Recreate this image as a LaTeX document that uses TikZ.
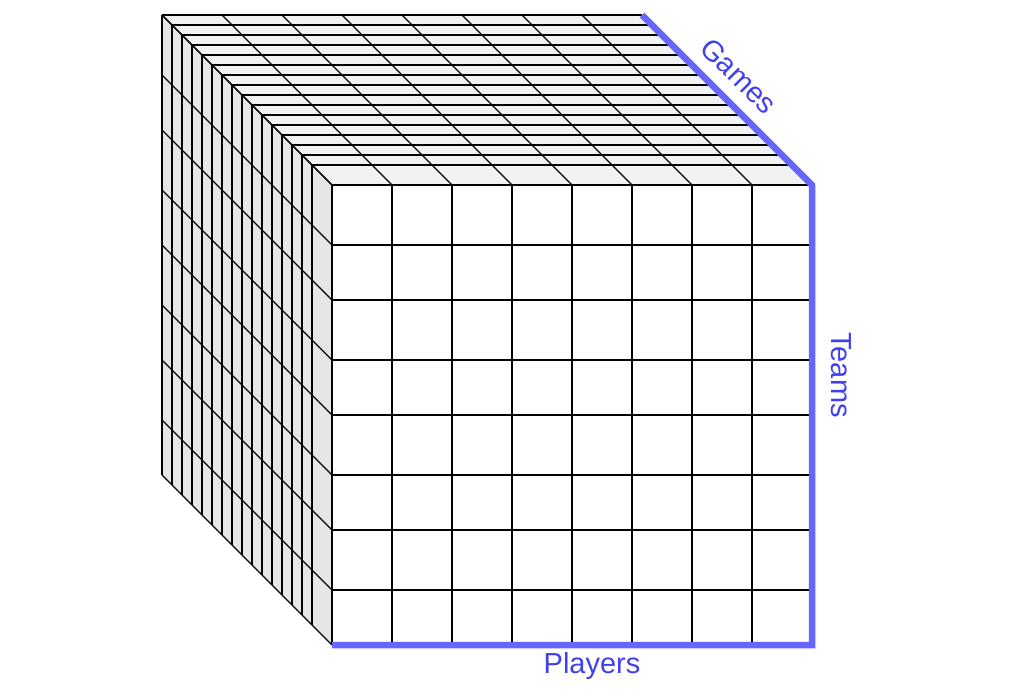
\documentclass[tikz,border=0pt]{standalone}
\usepackage{fontspec}
\setmainfont{Liberation Sans}
\definecolor{edgeblue}{HTML}{6666FF}
\definecolor{textblue}{HTML}{4040EE}
\definecolor{topgray}{HTML}{F2F2F2}
\definecolor{sidegray}{HTML}{E6E6E6}
\begin{document}
\begin{tikzpicture}[x=1pt,y=-1pt,
  gridline/.style={draw=black,line width=1.2pt},
  axisline/.style={draw=edgeblue,line width=6.5pt,line join=miter},
  axislabel/.style={text=textblue,font=\fontsize{29}{31}\selectfont,inner sep=0pt}]
\useasboundingbox (0,0) rectangle (1016,700);
% faces
\fill[topgray] (162,15) -- (642,15) -- (812,185) -- (332,185) -- cycle;
\fill[sidegray] (162,15) -- (332,185) -- (332,645) -- (162,475) -- cycle;
\fill[white] (332,185) rectangle (812,645);
% top face and side face slices
\foreach \j in {0,...,15} {
  \draw[gridline] ({162+10*\j},{15+10*\j}) -- ({642+10*\j},{15+10*\j});
  \draw[gridline] ({162+10*\j},{15+10*\j}) -- ({162+10*\j},{475+10*\j});
}
% top face column diagonals
\foreach \i in {0,...,7} {
  \draw[gridline] ({162+60*\i},15) -- ({332+60*\i},185);
}
% left face row diagonals
\foreach \r in {0,60,115,175,230,290,345,405,460} {
  \draw[gridline] (162,{15+\r}) -- (332,{185+\r});
}
% front grid
\foreach \i in {0,...,8} {
  \draw[gridline] ({332+60*\i},185) -- ({332+60*\i},645);
}
\foreach \y in {185,245,300,360,415,475,530,590,645} {
  \draw[gridline] (332,\y) -- (812,\y);
}
% axes
\coordinate (gstart) at (642,15);
\coordinate (corner) at (812,185);
\coordinate (br) at (812,645);
\coordinate (bl) at (332,645);
\draw[axisline] (gstart) -- (corner) -- (br) -- (bl);
\node[axislabel] (players) at (592,666) {Players};
\node[axislabel,rotate=-90] (teams) at (841,375) {Teams};
\node[axislabel,rotate=-45] (games) at (739,76) {Games};
\end{tikzpicture}
\end{document}
